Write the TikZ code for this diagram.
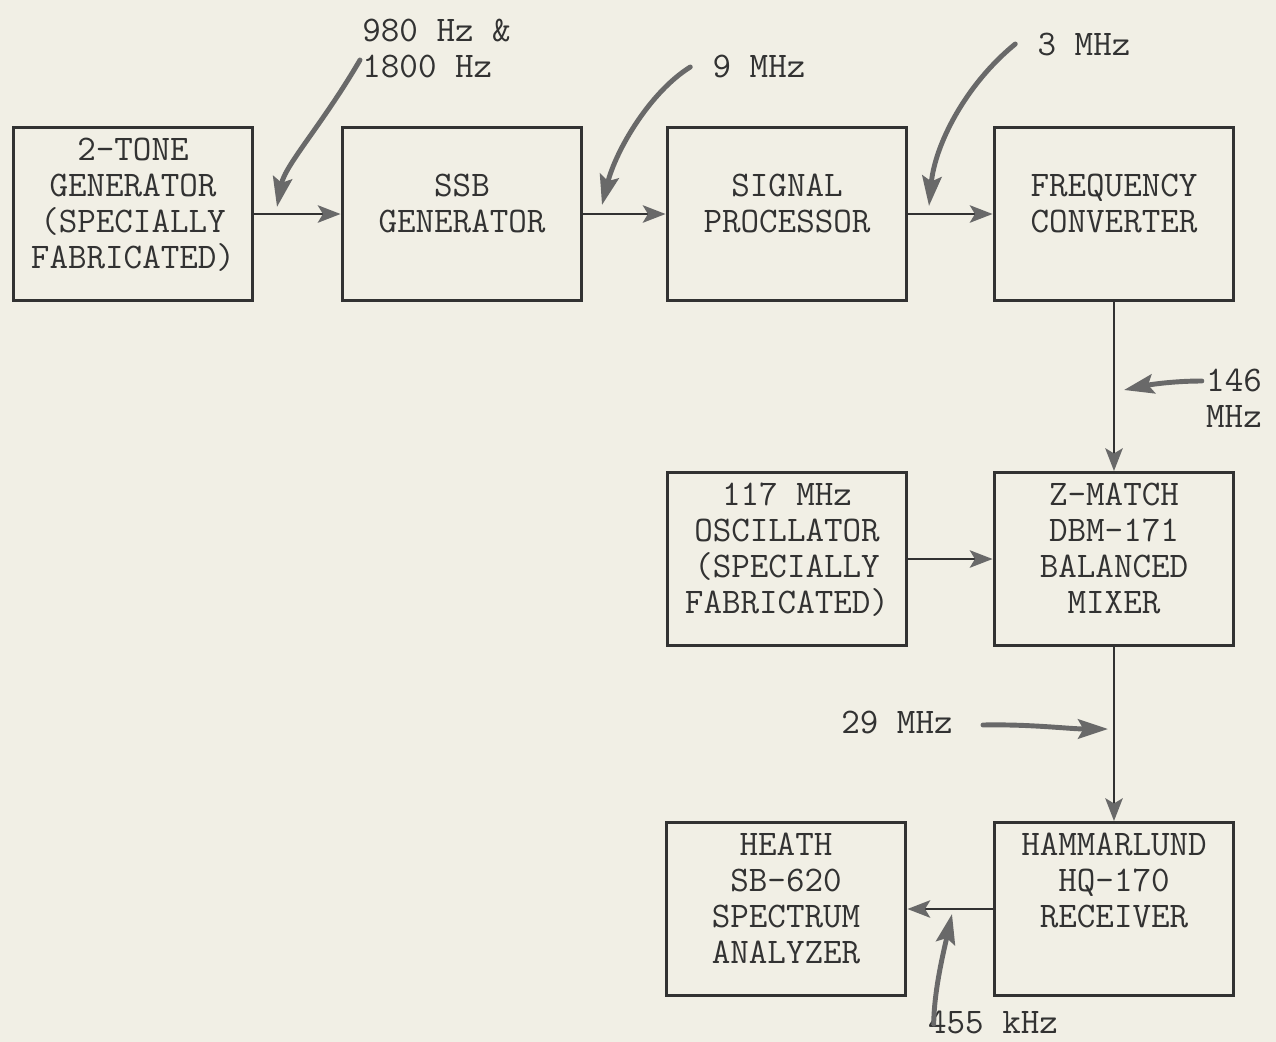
\documentclass[tikz,border=0pt]{standalone}
\usepackage{fontspec}
\usepackage{tikz}
\usetikzlibrary{arrows.meta,positioning,calc}
\definecolor{paper}{RGB}{241,239,229}
\definecolor{ink}{RGB}{50,50,50}
\definecolor{penGray}{RGB}{105,105,105}
\newcommand{\typer}{\fontsize{20.5}{20.5}\selectfont\ttfamily}

\begin{document}
\begin{tikzpicture}[x=0.02cm,y=-0.02cm,
    blk/.style={draw=ink, line width=1.7pt, minimum width=4.8cm, minimum height=3.46cm,
                inner sep=1pt, align=center, font=\typer, text=ink, text depth=12pt},
    feed/.style={draw=ink, line width=1.1pt, -{Stealth[length=13pt,width=10pt,inset=3pt,color=penGray]}},
    note/.style={draw=penGray, line width=2.8pt, line cap=round, -{Stealth[length=17pt,width=11pt,inset=3pt]}},
    lbl/.style={font=\typer, text=ink, align=left, inner sep=0pt}]
  \fill[paper] (0,0) rectangle (1276,1042);
  \useasboundingbox (0,0) rectangle (1276,1042);

  % Top chain
  \node[blk] (tone) at (133,214) {2-TONE\\GENERATOR\\(SPECIALLY\\FABRICATED)};
  \node[blk] (ssb) at (462,214) {SSB\\GENERATOR};
  \node[blk] (sp) at (787,214) {SIGNAL\\PROCESSOR};
  \node[blk] (fc) at (1114,214) {FREQUENCY\\CONVERTER};
  % Mixer stage
  \node[blk] (osc) at (787,559) {117 MHz\\OSCILLATOR\\(SPECIALLY\\FABRICATED)};
  \node[blk] (zm) at (1114,559) {Z-MATCH\\DBM-171\\BALANCED\\MIXER};
  % Receiver stage
  \node[blk] (heath) at (786,909) {HEATH\\SB-620\\SPECTRUM\\ANALYZER};
  \node[blk, text depth=33pt] (recv) at (1114,909) {HAMMARLUND\\HQ-170\\RECEIVER};

  \draw[feed] (tone) -- (ssb);
  \draw[feed] (ssb) -- (sp);
  \draw[feed] (sp) -- (fc);
  \draw[feed] (fc) -- (zm);
  \draw[feed] (osc) -- (zm);
  \draw[feed] (zm) -- (recv);
  \draw[feed] (recv) -- (heath);

  % Frequency notes
  \node[lbl, anchor=west] (twoTones) at (362,48) {980 Hz \&\\1800 Hz};
  \node[lbl] (nineMHz) at (759,66) {9 MHz};
  \node[lbl] (threeMHz) at (1084,44) {3 MHz};
  \node[lbl, align=center] (oneFortySix) at (1234,398) {146\\MHz};
  \node[lbl] (twentyNine) at (897,722) {29 MHz};
  \node[lbl] (fourFiftyFive) at (993,1022) {455 kHz};

  \coordinate (toneTap) at (277,207);
  \coordinate (ssbTap) at (602,205);
  \coordinate (spTap) at (929,206);
  \coordinate (fcTap) at (1124,390);
  \coordinate (zmTap) at (1108,729);
  \coordinate (recvTap) at (952,914);

  \draw[note] ([shift={(-2,12)}]twoTones.west) .. controls (322,125) and (285,165) .. (toneTap);
  \draw[note] ([shift={(-22,1)}]nineMHz.west) .. controls (650,92) and (616,150) .. (ssbTap);
  \draw[note] ([shift={(-22,0)}]threeMHz.west) .. controls (965,85) and (935,145) .. (spTap);
  \draw[note] ([shift={(-4,-17)}]oneFortySix.west) .. controls (1172,381) and (1148,385) .. (fcTap);
  \draw[note] ([shift={(30,3)}]twentyNine.east) .. controls (1030,724) and (1070,729) .. (zmTap);
  \draw[note] ([shift={(6,2)}]fourFiftyFive.west) .. controls (934,990) and (944,950) .. (recvTap);
\end{tikzpicture}
\end{document}
